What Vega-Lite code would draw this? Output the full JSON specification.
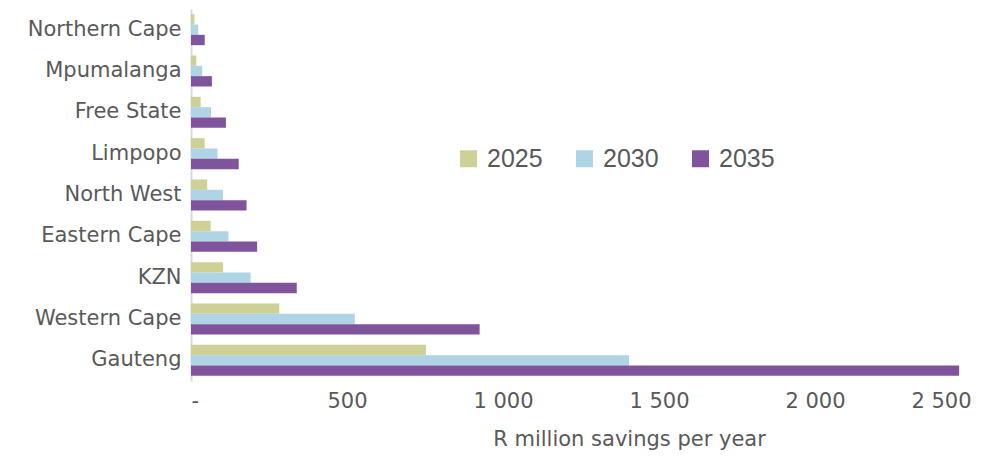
{
  "$schema": "https://vega.github.io/schema/vega-lite/v6.json",
  "width": 780,
  "height": 372,
  "autosize": {"type": "none"},
  "padding": {"left": 191, "top": 9, "right": 37, "bottom": 76},
  "background": "white",
  "data": {
    "values": [
      {"province": "Northern Cape", "year": "2025", "savings": 11},
      {"province": "Northern Cape", "year": "2030", "savings": 23},
      {"province": "Northern Cape", "year": "2035", "savings": 44},
      {"province": "Mpumalanga", "year": "2025", "savings": 17},
      {"province": "Mpumalanga", "year": "2030", "savings": 36},
      {"province": "Mpumalanga", "year": "2035", "savings": 67},
      {"province": "Free State", "year": "2025", "savings": 31},
      {"province": "Free State", "year": "2030", "savings": 64},
      {"province": "Free State", "year": "2035", "savings": 112},
      {"province": "Limpopo", "year": "2025", "savings": 44},
      {"province": "Limpopo", "year": "2030", "savings": 85},
      {"province": "Limpopo", "year": "2035", "savings": 153},
      {"province": "North West", "year": "2025", "savings": 52},
      {"province": "North West", "year": "2030", "savings": 103},
      {"province": "North West", "year": "2035", "savings": 178},
      {"province": "Eastern Cape", "year": "2025", "savings": 63},
      {"province": "Eastern Cape", "year": "2030", "savings": 120},
      {"province": "Eastern Cape", "year": "2035", "savings": 212},
      {"province": "KZN", "year": "2025", "savings": 103},
      {"province": "KZN", "year": "2030", "savings": 191},
      {"province": "KZN", "year": "2035", "savings": 339},
      {"province": "Western Cape", "year": "2025", "savings": 283},
      {"province": "Western Cape", "year": "2030", "savings": 525},
      {"province": "Western Cape", "year": "2035", "savings": 925},
      {"province": "Gauteng", "year": "2025", "savings": 753},
      {"province": "Gauteng", "year": "2030", "savings": 1404},
      {"province": "Gauteng", "year": "2035", "savings": 2462}
    ]
  },
  "mark": {"type": "bar"},
  "encoding": {
    "y": {
      "field": "province",
      "type": "nominal",
      "sort": null,
      "scale": {"paddingInner": 0.25, "paddingOuter": 0.125},
      "axis": {
        "title": null,
        "ticks": false,
        "domainColor": "#d9d9d9",
        "domainWidth": 2,
        "labelFont": "DejaVu Sans",
        "labelFontSize": 21,
        "labelColor": "#595959",
        "labelPadding": 10
      }
    },
    "yOffset": {"field": "year", "type": "nominal", "sort": "ascending"},
    "x": {
      "field": "savings",
      "type": "quantitative",
      "scale": {"domain": [0, 2500], "nice": false},
      "axis": {
        "values": [0, 500, 1000, 1500, 2000, 2500],
        "grid": false,
        "domain": false,
        "ticks": false,
        "labelExpr": "datum.value == 0 ? '-' : replace(format(datum.value, ','), ',', ' ')",
        "labelFont": "DejaVu Sans",
        "labelFontSize": 21,
        "labelColor": "#595959",
        "labelPadding": 9,
        "title": "R million savings per year",
        "titleFont": "DejaVu Sans",
        "titleFontSize": 21,
        "titleFontWeight": "normal",
        "titleColor": "#595959",
        "titlePadding": 17,
        "titleX": 438,
        "titleAlign": "center"
      }
    },
    "color": {
      "field": "year",
      "type": "nominal",
      "scale": {"domain": ["2025", "2030", "2035"], "range": ["#cfd096", "#aed4e6", "#7f549c"]},
      "legend": {
        "title": null,
        "orient": "none",
        "direction": "horizontal",
        "legendX": 265,
        "legendY": 137,
        "symbolType": "square",
        "symbolSize": 289,
        "symbolStrokeWidth": 0,
        "symbolOpacity": 1,
        "labelFont": "Liberation Sans",
        "labelFontSize": 25,
        "labelColor": "#595959",
        "labelOffset": 6,
        "columnPadding": 29,
        "symbolOffset": 0
      }
    }
  },
  "config": {"view": {"stroke": null}}
}
